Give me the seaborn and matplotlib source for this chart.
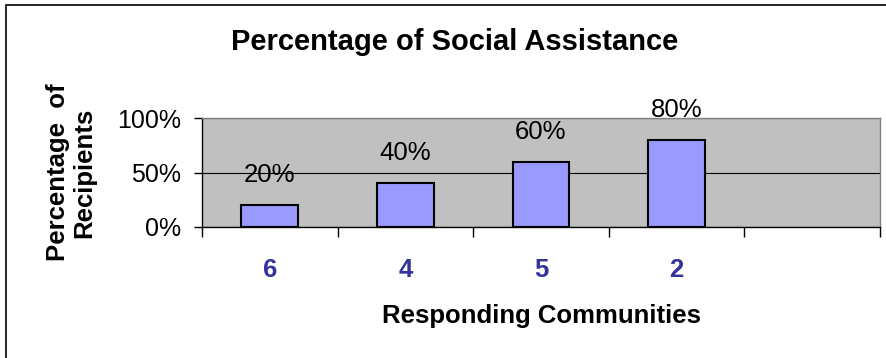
import matplotlib
matplotlib.use("Agg")
import matplotlib.pyplot as plt
import seaborn as sns
import pandas as pd
import numpy as np
from matplotlib.patches import Rectangle

communities = ["6", "4", "5", "2", " "]
percentages = [20, 40, 60, 80, np.nan]
value_labels = ["20%", "40%", "60%", "80%", ""]
y_ticks = [0, 50, 100]
y_tick_labels = ["0%", "50%", "100%"]

sns.set_theme(style="white")
plt.rcParams["font.family"] = ["Liberation Sans", "DejaVu Sans"]
plt.rcParams.update({"text.color": "black", "axes.labelcolor": "black",
                     "xtick.color": "black", "ytick.color": "black"})

df = pd.DataFrame({"community": communities, "pct": percentages})

fig = plt.figure(figsize=(8.86, 3.58), dpi=100)
fig.patch.set_facecolor("white")
fig.patches.append(Rectangle((6 / 886, -0.1), 1.2, 1 - 5 / 358 + 0.1,
                             transform=fig.transFigure, fill=False,
                             edgecolor="black", linewidth=1.2))

ax = fig.add_axes([202 / 886, 1 - 227 / 358, (880 - 202) / 886, (227 - 118) / 358])
ax.set_facecolor("#C0C0C0")

sns.barplot(data=df, x="community", y="pct", order=communities,
            color="#9999FF", edgecolor="black", linewidth=1.5,
            width=0.42, saturation=1, ax=ax, zorder=3)

ax.set_xlim(-0.5, len(communities) - 0.5)
ax.set_ylim(0, 100)

ax.yaxis.grid(True, color="black", linewidth=0.8)
ax.set_axisbelow(True)
ax.set_yticks(y_ticks)
ax.set_yticklabels(y_tick_labels, fontsize=18)
ax.tick_params(axis="y", which="major", left=True, length=6, width=1,
               color="black", labelcolor="black", pad=9)

ax.set_xticks(range(len(communities)))
ax.set_xticklabels(communities, fontsize=18.5, fontweight="bold", color="#333399")
ax.tick_params(axis="x", which="major", bottom=False, pad=16)
ax.set_xticks([i - 0.5 for i in range(len(communities) + 1)], minor=True)
ax.tick_params(axis="x", which="minor", bottom=True, length=7, width=1, color="black")

for name, sp in ax.spines.items():
    sp.set_linewidth(1)
    sp.set_color("black" if name in ("left", "bottom") else "#808080")

for i, (v, lab) in enumerate(zip(percentages, value_labels)):
    if lab:
        ax.annotate(lab, (i, v), xytext=(0, 13), textcoords="offset points",
                    ha="center", va="bottom", fontsize=18.5, zorder=5,
                    annotation_clip=False)

ax.set_xlabel("Responding Communities", fontsize=18.5, fontweight="bold",
              labelpad=16)
ax.set_ylabel("Percentage  of\nRecipients", fontsize=18.5, fontweight="bold",
              labelpad=15, linespacing=1.1)

fig.text(455 / 886, 1 - 42 / 358, "Percentage of Social Assistance",
         ha="center", va="center", fontsize=21, fontweight="bold")

fig.savefig("out.png", dpi=100)
